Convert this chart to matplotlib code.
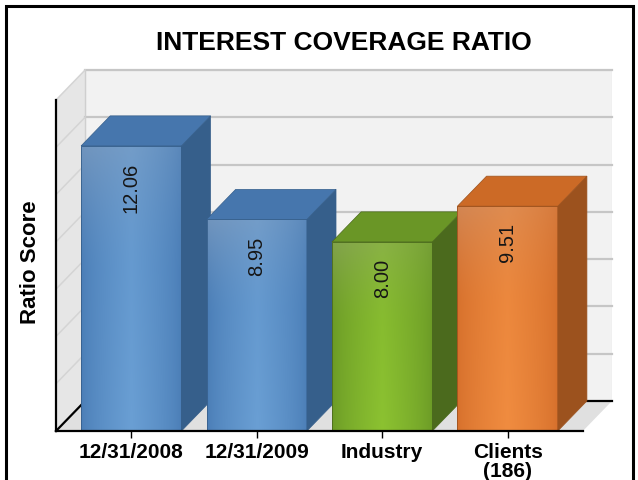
import numpy as np
import matplotlib
matplotlib.use('Agg')
import matplotlib.pyplot as plt
from matplotlib.patches import Polygon, Rectangle
from matplotlib.colors import to_rgb

plt.rcParams['font.family'] = ['Liberation Sans', 'DejaVu Sans']

# Chart data
categories = ['12/31/2008', '12/31/2009', 'Industry', 'Clients\n(186)']
values = [12.06, 8.95, 8.00, 9.51]
value_labels = ['12.06', '8.95', '8.00', '9.51']
title = 'INTEREST COVERAGE RATIO'
ylabel = 'Ratio Score'
grid_steps = [2, 4, 6, 8, 10, 12, 14]

# Bar face colours: front edge, front centre, top, side
front_edge = ['#4a7db6', '#4a7db6', '#6b9a26', '#d6702c']
front_mid = ['#6a9fd4', '#6a9fd4', '#8cc231', '#f08c40']
haze = ['#8ea6c2', '#8ea6c2', '#93a86a', '#cf9670']
top_col = ['#4676ad', '#4676ad', '#6a9626', '#cc6a26']
side_col = ['#365f8b', '#365f8b', '#4b6a1d', '#9c521e']

YMAX = 14
DX, DY = 0.232, 1.27      # depth offset of the 3d box
X0, X1 = -0.6, 3.6        # front plane x extent
BW = 0.8

fig = plt.figure(figsize=(6.38, 4.81), dpi=100)
ax = fig.add_axes([56 / 638, 49 / 481, 556 / 638, 361 / 481])
ax.set_xlim(X0, X1 + DX)
ax.set_ylim(0, YMAX + DY)
ax.patch.set_visible(False)
for s in ax.spines.values():
    s.set_visible(False)

# back wall, left wall, floor
ax.add_patch(Polygon([(X0 + DX, DY), (X1 + DX, DY), (X1 + DX, YMAX + DY), (X0 + DX, YMAX + DY)],
                     closed=True, fc='#f2f2f2', ec='#d8d8d8', lw=0.8, zorder=0))
ax.add_patch(Polygon([(X0, 0), (X0 + DX, DY), (X0 + DX, YMAX + DY), (X0, YMAX)],
                     closed=True, fc='#e6e6e6', ec='none', zorder=0))
ax.add_patch(Polygon([(X0, 0), (X1, 0), (X1 + DX, DY), (X0 + DX, DY)],
                     closed=True, fc='#e0e0e0', ec='none', zorder=0))

for g in grid_steps:
    ax.plot([X0 + DX, X1 + DX], [g + DY, g + DY], color='#c6c6c6', lw=1.6, zorder=1, clip_on=False)
    ax.plot([X0, X0 + DX], [g, g + DY], color='#d4d4d4', lw=1.1, zorder=1, clip_on=False)
ax.plot([X0 + DX, X0 + DX], [DY, YMAX + DY], color='#cfcfcf', lw=1.0, zorder=1)

# floor outline and axis line
ax.plot([X0 + DX, X1 + DX], [DY, DY], color='black', lw=1.6, zorder=1, clip_on=False)
ax.plot([X0, X0 + DX], [0, DY], color='black', lw=1.6, zorder=1, clip_on=False)
ax.plot([X0, X1], [0, 0], color='black', lw=1.6, zorder=10, clip_on=False)
ax.plot([X0, X0], [0, YMAX], color='black', lw=1.6, zorder=10, clip_on=False)


def face_image(edge, mid, hz, n=80):
    u = np.linspace(0, 1, n)
    v = np.linspace(0, 1, n)
    U, V = np.meshgrid(u, v)
    w = 1 - np.abs(2 * U - 1)
    t = (w ** 0.7) * (1 - 0.25 * V)
    e, m, h = np.array(to_rgb(edge)), np.array(to_rgb(mid)), np.array(to_rgb(hz))
    img = e + (m - e) * t[..., None]
    k = 0.55 * np.clip((V - 0.55) / 0.45, 0, 1) ** 1.5 * (1 - 0.6 * U)
    img = img * (1 - k[..., None]) + h * k[..., None]
    return np.clip(img, 0, 1)


for i, v in enumerate(values):
    x0, x1 = i - BW / 2, i + BW / 2
    z = 3 + i
    ax.imshow(face_image(front_edge[i], front_mid[i], haze[i]), extent=[x0, x1, 0, v],
              origin='lower', aspect='auto', interpolation='bilinear', zorder=z)
    ax.add_patch(Rectangle((x0, 0), BW, v, fill=False, ec=side_col[i], lw=0.6, zorder=z))
    ax.add_patch(Polygon([(x1, 0), (x1 + DX, DY), (x1 + DX, v + DY), (x1, v)],
                         closed=True, fc=side_col[i], ec=side_col[i], lw=0.5, zorder=z))
    ax.add_patch(Polygon([(x0, v), (x1, v), (x1 + DX, v + DY), (x0 + DX, v + DY)],
                         closed=True, fc=top_col[i], ec=side_col[i], lw=0.5, zorder=z))
    ax.text(i, v - 0.68, value_labels[i], rotation=90, ha='center', va='top',
            fontsize=14.5, color='#161616', zorder=20)

ax.set_xlim(X0, X1 + DX)
ax.set_ylim(0, YMAX + DY)
ax.set_yticks([])
ax.set_xticks(range(len(categories)))
ax.set_xticklabels(categories, fontsize=15, fontweight='bold', linespacing=1.0)
ax.tick_params(axis='x', length=5, width=1, pad=3, color='black')

fig.text(344 / 638, 1 - 42.5 / 481, title, ha='center', va='center',
         fontsize=19, fontweight='bold')
fig.text(31 / 638, 1 - 262 / 481, ylabel, rotation=90, ha='center', va='center',
         fontsize=16, fontweight='bold')

# outer frame
fig.add_artist(Rectangle((6 / 638, -0.05), 627 / 638, 1.05 - 7 / 481, fill=False,
                         ec='black', lw=2.2, transform=fig.transFigure))

fig.savefig('out.png', dpi=100)
